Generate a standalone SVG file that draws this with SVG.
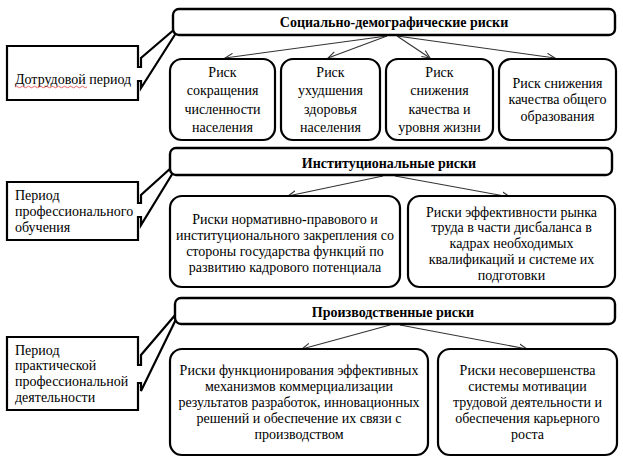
<svg xmlns="http://www.w3.org/2000/svg" width="623" height="461" viewBox="0 0 623 461">
<defs>
<marker id="ah" viewBox="0 0 10 10" refX="9" refY="5" markerWidth="9" markerHeight="9" markerUnits="userSpaceOnUse" orient="auto">
<path d="M0,1 L9,5 L0,9" fill="none" stroke="#333" stroke-width="1.2"/>
</marker>
</defs>
<style>
.box{fill:#fff;stroke:#000;stroke-width:2.2}
.hdr{fill:#fff;stroke:#000;stroke-width:2.4}
.co{fill:#fff;stroke:#000;stroke-width:2.2;stroke-linejoin:miter}
text{font-family:'Liberation Serif','Times New Roman',serif;font-size:14px;fill:#000}
.t{text-anchor:middle}
.th{font-weight:bold;text-anchor:middle}
.c{stroke:#333;stroke-width:1.1;fill:none;marker-end:url(#ah)}
</style>
<rect width="623" height="461" fill="#fff"/>

<g id="connectors">
<line class="c" x1="387" y1="36" x2="225" y2="58"/>
<line class="c" x1="387" y1="36" x2="328" y2="58"/>
<line class="c" x1="397" y1="36" x2="430" y2="58"/>
<line class="c" x1="397" y1="36" x2="555" y2="58"/>
<line class="c" x1="383" y1="176" x2="288" y2="196"/>
<line class="c" x1="395" y1="176" x2="510" y2="197"/>
<line class="c" x1="390" y1="325" x2="302" y2="349"/>
<line class="c" x1="400" y1="325" x2="527" y2="349"/>
</g>

<g id="callout-predwork">
<path class="co" d="M7,46 H138 V67 H141 V58 L183,22 L141,88 V81 H138 V100 H7 Z"/>
<text x="15" y="84">Дотрудовой период</text>
<path d="M15,87 q1.5,-1.5 3,0 t3,0 t3,0 t3,0 t3,0 t3,0 t3,0 t3,0 t3,0 t3,0 t3,0 t3,0 t3,0 t3,0 t3,0 t3,0 t3,0 t3,0 t3,0 t3,0 t3,0 t3,0 t3,0 t3,0" fill="none" stroke="#e04040" stroke-width="0.8"/>
</g>

<g id="callout-training">
<path class="co" d="M7,182 H138 V203 H141 V195 L182,158 L141,225 V217 H138 V240 H7 Z"/>
<text x="15" y="200">Период</text>
<text x="15" y="216">профессионального</text>
<text x="15" y="232">обучения</text>
</g>

<g id="callout-practice">
<path class="co" d="M7,337 H138 V365 H141 V355 L182,307 L141,391 V383 H138 V410 H7 Z"/>
<text x="15" y="355">Период</text>
<text x="15" y="370">практической</text>
<text x="15" y="386">профессиональной</text>
<text x="15" y="402">деятельности</text>
</g>

<g id="header-social">
<rect class="hdr" x="173" y="9" width="442" height="26" rx="6"/>
<text class="th" x="394" y="27">Социально-демографические риски</text>
</g>

<g id="box-s1">
<rect class="box" x="170" y="59" width="105" height="81" rx="12"/>
<text class="t" x="222.5" y="77">Риск</text>
<text class="t" x="222.5" y="95">сокращения</text>
<text class="t" x="222.5" y="114">численности</text>
<text class="t" x="222.5" y="132">населения</text>
</g>
<g id="box-s2">
<rect class="box" x="281" y="59" width="99" height="81" rx="12"/>
<text class="t" x="330.5" y="77">Риск</text>
<text class="t" x="330.5" y="95">ухудшения</text>
<text class="t" x="330.5" y="114">здоровья</text>
<text class="t" x="330.5" y="132">населения</text>
</g>
<g id="box-s3">
<rect class="box" x="386" y="59" width="107" height="81" rx="12"/>
<text class="t" x="439.5" y="77">Риск</text>
<text class="t" x="439.5" y="95">снижения</text>
<text class="t" x="439.5" y="114">качества и</text>
<text class="t" x="439.5" y="132">уровня жизни</text>
</g>
<g id="box-s4">
<rect class="box" x="499" y="59" width="117" height="81" rx="12"/>
<text class="t" x="557.5" y="88">Риск снижения</text>
<text class="t" x="557.5" y="104">качества общего</text>
<text class="t" x="557.5" y="121">образования</text>
</g>

<g id="header-inst">
<rect class="hdr" x="170" y="148" width="442" height="27" rx="6"/>
<text class="th" x="389" y="168">Институциональные риски</text>
</g>
<g id="box-i1">
<rect class="box" x="170" y="196" width="230" height="91" rx="12"/>
<text class="t" x="285" y="224">Риски нормативно-правового и</text>
<text class="t" x="285" y="240">институционального закрепления со</text>
<text class="t" x="285" y="256">стороны государства функций по</text>
<text class="t" x="285" y="272">развитию кадрового потенциала</text>
</g>
<g id="box-i2">
<rect class="box" x="408" y="196" width="207" height="91" rx="12"/>
<text class="t" x="511.5" y="217">Риски эффективности рынка</text>
<text class="t" x="511.5" y="232">труда в части дисбаланса в</text>
<text class="t" x="511.5" y="248">кадрах необходимых</text>
<text class="t" x="511.5" y="264">квалификаций и системе их</text>
<text class="t" x="511.5" y="280">подготовки</text>
</g>

<g id="header-prod">
<rect class="hdr" x="175" y="298" width="440" height="26" rx="6"/>
<text class="th" x="393" y="317">Производственные риски</text>
</g>
<g id="box-p1">
<rect class="box" x="170" y="349" width="258" height="106" rx="12"/>
<text class="t" x="299" y="375">Риски функционирования эффективных</text>
<text class="t" x="299" y="391">механизмов коммерциализации</text>
<text class="t" x="299" y="407">результатов разработок, инновационных</text>
<text class="t" x="299" y="423">решений и обеспечение их связи с</text>
<text class="t" x="299" y="439">производством</text>
</g>
<g id="box-p2">
<rect class="box" x="438" y="349" width="179" height="106" rx="12"/>
<text class="t" x="527.5" y="375">Риски несовершенства</text>
<text class="t" x="527.5" y="391">системы мотивации</text>
<text class="t" x="527.5" y="407">трудовой деятельности и</text>
<text class="t" x="527.5" y="423">обеспечения карьерного</text>
<text class="t" x="527.5" y="439">роста</text>
</g>
</svg>
